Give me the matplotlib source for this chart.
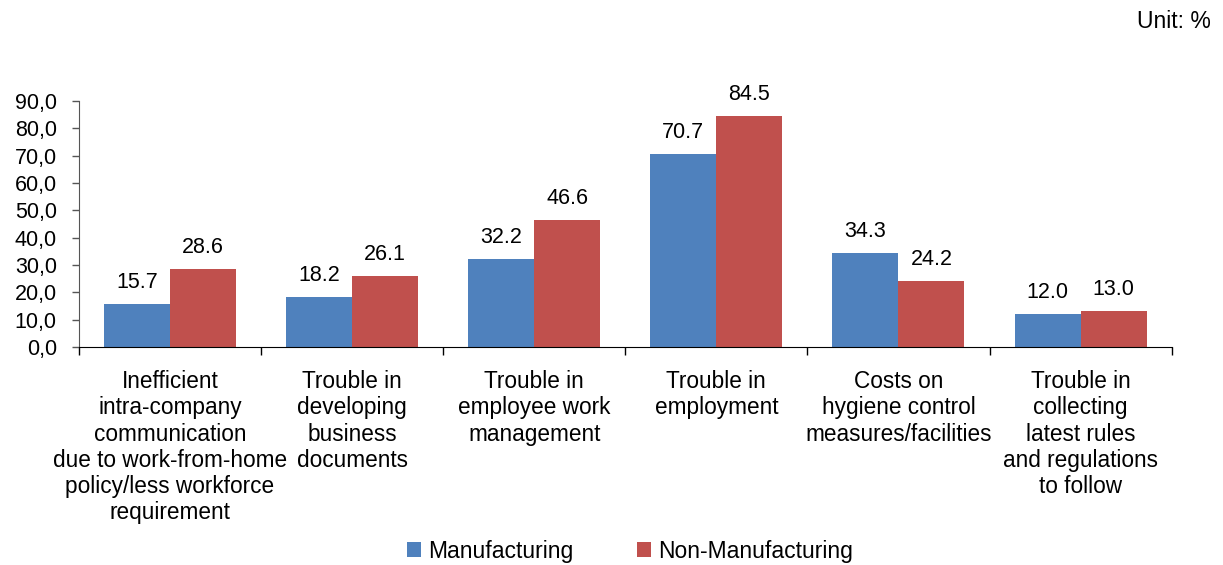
import numpy as np
import matplotlib
matplotlib.use("Agg")
import matplotlib.pyplot as plt

plt.rcParams['font.family'] = ['Liberation Sans', 'DejaVu Sans']

categories = [
    "Inefficient\nintra-company\ncommunication\ndue to work-from-home\npolicy/less workforce\nrequirement",
    "Trouble in\ndeveloping\nbusiness\ndocuments",
    "Trouble in\nemployee work\nmanagement",
    "Trouble in\nemployment",
    "Costs on\nhygiene control\nmeasures/facilities",
    "Trouble in\ncollecting\nlatest rules\nand regulations\nto follow",
]
manufacturing = [15.7, 18.2, 32.2, 70.7, 34.3, 12.0]
non_manufacturing = [28.6, 26.1, 46.6, 84.5, 24.2, 13.0]
yticks = [0, 10, 20, 30, 40, 50, 60, 70, 80, 90]

blue = '#4F81BD'
red = '#C0504D'

fig = plt.figure(figsize=(12.23, 5.65), dpi=100)
ax = fig.add_axes([0.0646, 0.3858, 0.8934, 0.4354])

x = np.arange(len(categories))
width = 0.3625
bars1 = ax.bar(x - width / 2, manufacturing, width, color=blue, label='Manufacturing')
bars2 = ax.bar(x + width / 2, non_manufacturing, width, color=red, label='Non-Manufacturing')

for rects in (bars1, bars2):
    for rect in rects:
        h = rect.get_height()
        ax.annotate('{:.1f}'.format(h),
                    xy=(rect.get_x() + rect.get_width() / 2, h),
                    xytext=(0, 8), textcoords='offset points',
                    ha='center', va='bottom', fontsize=15.5)

ax.set_xlim(-0.5, len(categories) - 0.5)
ax.set_ylim(0, 90)
ax.set_yticks(yticks)
ax.set_yticklabels(['{:.1f}'.format(v).replace('.', ',') for v in yticks], fontsize=15.5)

# ticks at group boundaries, category text below
ax.set_xticks(np.arange(-0.5, len(categories)))
ax.set_xticklabels([])
ax.tick_params(axis='x', direction='out', length=6, width=1, color='black')
ax.tick_params(axis='y', direction='out', length=5, width=1, color='#555555', pad=11)
for i, lab in enumerate(categories):
    ax.text(i, -0.095, lab, transform=ax.get_xaxis_transform(), ha='center', va='top',
            fontsize=16.3, linespacing=1.17)

for s in ['top', 'right']:
    ax.spines[s].set_visible(False)
ax.spines['left'].set_color('#555555')
ax.spines['bottom'].set_color('black')

fig.text(0.99, 0.982, 'Unit: %', ha='right', va='top', fontsize=16.5)

fig.legend(handles=[bars1, bars2], loc='lower center', bbox_to_anchor=(0.515, -0.012),
           ncol=2, frameon=False, fontsize=16.5, handlelength=0.6, handleheight=0.6,
           handletextpad=0.3, columnspacing=2.8, borderaxespad=0)

fig.savefig('out.png', dpi=100)
